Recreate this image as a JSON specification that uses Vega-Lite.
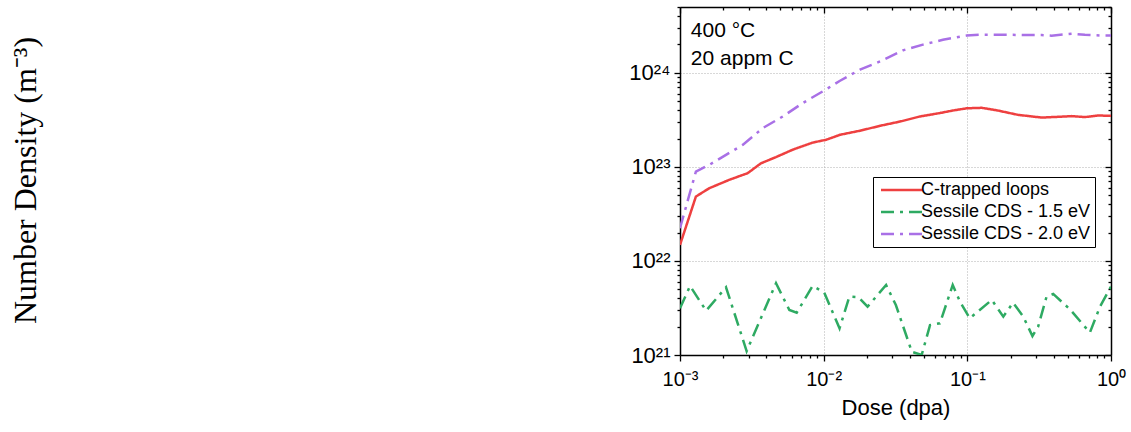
{
  "$schema": "https://vega.github.io/schema/vega-lite/v6.json",
  "autosize": "none",
  "width": 431,
  "height": 348,
  "padding": {"left": 680, "top": 7, "right": 20, "bottom": 77},
  "background": "white",
  "config": {
    "view": {"stroke": null},
    "font": "Liberation Sans",
    "axis": {
      "domainColor": "black",
      "domainWidth": 1.5,
      "tickColor": "black",
      "tickWidth": 1.3,
      "labelColor": "black",
      "titleColor": "black",
      "labelFont": "Liberation Sans",
      "titleFont": "Liberation Sans",
      "titleFontWeight": "normal",
      "labelOverlap": false,
      "labelFlush": false
    },
    "legend": {
      "title": null,
      "strokeColor": "black",
      "fillColor": "white",
      "padding": 4,
      "cornerRadius": 0,
      "symbolType": "M-1,0H7.4",
      "symbolSize": 100,
      "symbolStrokeWidth": 2.5,
      "labelFontSize": 18,
      "labelFont": "Liberation Sans",
      "labelColor": "black",
      "labelLimit": 400,
      "rowPadding": 4,
      "labelOffset": 26
    }
  },
  "datasets": {
    "curves": [
      {"s": "C-trapped loops", "dose": 0.001, "density": 1.48e22},
      {"s": "C-trapped loops", "dose": 0.00129, "density": 4.83e22},
      {"s": "C-trapped loops", "dose": 0.0016, "density": 5.93e22},
      {"s": "C-trapped loops", "dose": 0.0022, "density": 7.27e22},
      {"s": "C-trapped loops", "dose": 0.00296, "density": 8.57e22},
      {"s": "C-trapped loops", "dose": 0.00366, "density": 1.09e23},
      {"s": "C-trapped loops", "dose": 0.00466, "density": 1.27e23},
      {"s": "C-trapped loops", "dose": 0.00608, "density": 1.52e23},
      {"s": "C-trapped loops", "dose": 0.00838, "density": 1.81e23},
      {"s": "C-trapped loops", "dose": 0.0104, "density": 1.94e23},
      {"s": "C-trapped loops", "dose": 0.013, "density": 2.19e23},
      {"s": "C-trapped loops", "dose": 0.0179, "density": 2.42e23},
      {"s": "C-trapped loops", "dose": 0.0247, "density": 2.73e23},
      {"s": "C-trapped loops", "dose": 0.034, "density": 3.03e23},
      {"s": "C-trapped loops", "dose": 0.0468, "density": 3.43e23},
      {"s": "C-trapped loops", "dose": 0.0644, "density": 3.73e23},
      {"s": "C-trapped loops", "dose": 0.0794, "density": 3.97e23},
      {"s": "C-trapped loops", "dose": 0.0993, "density": 4.19e23},
      {"s": "C-trapped loops", "dose": 0.126, "density": 4.24e23},
      {"s": "C-trapped loops", "dose": 0.163, "density": 3.97e23},
      {"s": "C-trapped loops", "dose": 0.225, "density": 3.57e23},
      {"s": "C-trapped loops", "dose": 0.329, "density": 3.34e23},
      {"s": "C-trapped loops", "dose": 0.427, "density": 3.4e23},
      {"s": "C-trapped loops", "dose": 0.532, "density": 3.46e23},
      {"s": "C-trapped loops", "dose": 0.658, "density": 3.38e23},
      {"s": "C-trapped loops", "dose": 0.811, "density": 3.51e23},
      {"s": "C-trapped loops", "dose": 1.0, "density": 3.49e23},

      {"s": "Sessile CDS - 1.5 eV", "dose": 0.001, "density": 3.14e21},
      {"s": "Sessile CDS - 1.5 eV", "dose": 0.001174, "density": 5.42e21},
      {"s": "Sessile CDS - 1.5 eV", "dose": 0.00152, "density": 2.96e21},
      {"s": "Sessile CDS - 1.5 eV", "dose": 0.00209, "density": 5.25e21},
      {"s": "Sessile CDS - 1.5 eV", "dose": 0.00291, "density": 1.1e21},
      {"s": "Sessile CDS - 1.5 eV", "dose": 0.00466, "density": 5.79e21},
      {"s": "Sessile CDS - 1.5 eV", "dose": 0.00577, "density": 3.01e21},
      {"s": "Sessile CDS - 1.5 eV", "dose": 0.00649, "density": 2.82e21},
      {"s": "Sessile CDS - 1.5 eV", "dose": 0.00838, "density": 5.42e21},
      {"s": "Sessile CDS - 1.5 eV", "dose": 0.0101, "density": 4.6e21},
      {"s": "Sessile CDS - 1.5 eV", "dose": 0.0129, "density": 1.92e21},
      {"s": "Sessile CDS - 1.5 eV", "dose": 0.0151, "density": 4.17e21},
      {"s": "Sessile CDS - 1.5 eV", "dose": 0.0175, "density": 4.11e21},
      {"s": "Sessile CDS - 1.5 eV", "dose": 0.0202, "density": 3.26e21},
      {"s": "Sessile CDS - 1.5 eV", "dose": 0.0272, "density": 5.55e21},
      {"s": "Sessile CDS - 1.5 eV", "dose": 0.0318, "density": 3.4e21},
      {"s": "Sessile CDS - 1.5 eV", "dose": 0.0411, "density": 1.08e21},
      {"s": "Sessile CDS - 1.5 eV", "dose": 0.0481, "density": 1.0e21},
      {"s": "Sessile CDS - 1.5 eV", "dose": 0.055, "density": 2.08e21},
      {"s": "Sessile CDS - 1.5 eV", "dose": 0.0644, "density": 2.17e21},
      {"s": "Sessile CDS - 1.5 eV", "dose": 0.0791, "density": 5.55e21},
      {"s": "Sessile CDS - 1.5 eV", "dose": 0.0889, "density": 3.69e21},
      {"s": "Sessile CDS - 1.5 eV", "dose": 0.104, "density": 2.46e21},
      {"s": "Sessile CDS - 1.5 eV", "dose": 0.148, "density": 3.85e21},
      {"s": "Sessile CDS - 1.5 eV", "dose": 0.178, "density": 2.56e21},
      {"s": "Sessile CDS - 1.5 eV", "dose": 0.208, "density": 3.6e21},
      {"s": "Sessile CDS - 1.5 eV", "dose": 0.245, "density": 2.56e21},
      {"s": "Sessile CDS - 1.5 eV", "dose": 0.284, "density": 1.59e21},
      {"s": "Sessile CDS - 1.5 eV", "dose": 0.311, "density": 2.0e21},
      {"s": "Sessile CDS - 1.5 eV", "dose": 0.356, "density": 4.17e21},
      {"s": "Sessile CDS - 1.5 eV", "dose": 0.396, "density": 4.46e21},
      {"s": "Sessile CDS - 1.5 eV", "dose": 0.518, "density": 3.06e21},
      {"s": "Sessile CDS - 1.5 eV", "dose": 0.713, "density": 1.73e21},
      {"s": "Sessile CDS - 1.5 eV", "dose": 0.838, "density": 3.26e21},
      {"s": "Sessile CDS - 1.5 eV", "dose": 1.0, "density": 5.33e21},

      {"s": "Sessile CDS - 2.0 eV", "dose": 0.001, "density": 2.23e22},
      {"s": "Sessile CDS - 2.0 eV", "dose": 0.001225, "density": 6.71e22},
      {"s": "Sessile CDS - 2.0 eV", "dose": 0.00129, "density": 8.91e22},
      {"s": "Sessile CDS - 2.0 eV", "dose": 0.0016, "density": 1.05e23},
      {"s": "Sessile CDS - 2.0 eV", "dose": 0.00209, "density": 1.34e23},
      {"s": "Sessile CDS - 2.0 eV", "dose": 0.00273, "density": 1.71e23},
      {"s": "Sessile CDS - 2.0 eV", "dose": 0.00377, "density": 2.58e23},
      {"s": "Sessile CDS - 2.0 eV", "dose": 0.00519, "density": 3.43e23},
      {"s": "Sessile CDS - 2.0 eV", "dose": 0.00714, "density": 4.76e23},
      {"s": "Sessile CDS - 2.0 eV", "dose": 0.0101, "density": 6.48e23},
      {"s": "Sessile CDS - 2.0 eV", "dose": 0.013, "density": 8.22e23},
      {"s": "Sessile CDS - 2.0 eV", "dose": 0.0179, "density": 1.08e24},
      {"s": "Sessile CDS - 2.0 eV", "dose": 0.0247, "density": 1.32e24},
      {"s": "Sessile CDS - 2.0 eV", "dose": 0.0356, "density": 1.73e24},
      {"s": "Sessile CDS - 2.0 eV", "dose": 0.0491, "density": 1.99e24},
      {"s": "Sessile CDS - 2.0 eV", "dose": 0.0676, "density": 2.24e24},
      {"s": "Sessile CDS - 2.0 eV", "dose": 0.0989, "density": 2.49e24},
      {"s": "Sessile CDS - 2.0 eV", "dose": 0.126, "density": 2.54e24},
      {"s": "Sessile CDS - 2.0 eV", "dose": 0.163, "density": 2.54e24},
      {"s": "Sessile CDS - 2.0 eV", "dose": 0.252, "density": 2.52e24},
      {"s": "Sessile CDS - 2.0 eV", "dose": 0.329, "density": 2.52e24},
      {"s": "Sessile CDS - 2.0 eV", "dose": 0.386, "density": 2.48e24},
      {"s": "Sessile CDS - 2.0 eV", "dose": 0.532, "density": 2.6e24},
      {"s": "Sessile CDS - 2.0 eV", "dose": 0.658, "density": 2.54e24},
      {"s": "Sessile CDS - 2.0 eV", "dose": 0.861, "density": 2.49e24},
      {"s": "Sessile CDS - 2.0 eV", "dose": 1.0, "density": 2.49e24}
    ]
  },
  "resolve": {"axis": {"x": "independent", "y": "independent"}},
  "layer": [
    {
      "data": {"name": "curves"},
      "mark": {"type": "line", "strokeWidth": 2.5, "clip": true},
      "encoding": {
        "x": {
          "field": "dose",
          "type": "quantitative",
          "scale": {"type": "log", "domain": [0.001, 1], "nice": false},
          "axis": {
            "orient": "bottom",
            "title": "Dose (dpa)",
            "titleFontSize": 22,
            "titlePadding": 8,
            "labelFontSize": 20,
            "labelPadding": 8,
            "values": [0.001, 0.01, 0.1, 1],
            "labelExpr": "datum.value == 0.001 ? '10⁻³' : datum.value == 0.01 ? '10⁻²' : datum.value == 0.1 ? '10⁻¹' : '10⁰'",
            "tickSize": 6,
            "grid": true,
            "gridColor": "#b0b0b0",
            "gridDash": [1, 2],
            "gridWidth": 1
          }
        },
        "y": {
          "field": "density",
          "type": "quantitative",
          "scale": {"type": "log", "domain": [1e21, 5e24], "nice": false},
          "axis": {
            "orient": "left",
            "title": "Number Density (m⁻³)",
            "titleFont": "Liberation Serif",
            "titleFontSize": 32,
            "titleAngle": -90,
            "titleX": -655,
            "titleY": 173,
            "titleAlign": "center",
            "titleBaseline": "middle",
            "labelFontSize": 22,
            "labelPadding": 4,
            "values": [1e21, 1e22, 1e23, 1e24],
            "labelExpr": "datum.value == 1e21 ? '10²¹' : datum.value == 1e22 ? '10²²' : datum.value == 1e23 ? '10²³' : '10²⁴'",
            "tickSize": 6,
            "grid": true,
            "gridColor": "#b0b0b0",
            "gridDash": [1, 2],
            "gridWidth": 1
          }
        },
        "color": {
          "field": "s",
          "type": "nominal",
          "scale": {
            "domain": ["C-trapped loops", "Sessile CDS - 1.5 eV", "Sessile CDS - 2.0 eV"],
            "range": ["#ee4040", "#2eaa62", "#a970e6"]
          },
          "legend": {"orient": "none", "legendX": 193, "legendY": 170}
        },
        "strokeDash": {
          "field": "s",
          "type": "nominal",
          "scale": {
            "domain": ["C-trapped loops", "Sessile CDS - 1.5 eV", "Sessile CDS - 2.0 eV"],
            "range": [[1, 0], [13, 6, 3, 6], [13, 6, 3, 6]]
          },
          "legend": {"orient": "none", "legendX": 193, "legendY": 170}
        }
      }
    },
    {
      "data": {"values": [{}]},
      "mark": {
        "type": "text",
        "align": "left",
        "baseline": "top",
        "fontSize": 21,
        "lineHeight": 28,
        "font": "Liberation Sans",
        "color": "black",
        "text": ["400 °C", "20 appm C"]
      },
      "encoding": {
        "x": {
          "datum": 0.00119,
          "type": "quantitative",
          "scale": {"type": "log", "domain": [0.001, 1], "nice": false},
          "axis": {
            "orient": "top",
            "title": null,
            "labels": false,
            "grid": false,
            "values": [0.001, 0.002, 0.003, 0.004, 0.005, 0.006, 0.007, 0.008, 0.009, 0.01, 0.02, 0.03, 0.04, 0.05, 0.06, 0.07, 0.08, 0.09, 0.1, 0.2, 0.3, 0.4, 0.5, 0.6, 0.7, 0.8, 0.9, 1],
            "tickSize": {"condition": {"test": "abs(log(datum.value)/LN10 - round(log(datum.value)/LN10)) < 1e-6", "value": -6}, "value": -3}
          }
        },
        "y": {
          "datum": 3.6e24,
          "type": "quantitative",
          "scale": {"type": "log", "domain": [1e21, 5e24], "nice": false},
          "axis": {
            "orient": "right",
            "title": null,
            "labels": false,
            "grid": false,
            "values": [1e21, 2e21, 3e21, 4e21, 5e21, 6e21, 7e21, 8e21, 9e21, 1e22, 2e22, 3e22, 4e22, 5e22, 6e22, 7e22, 8e22, 9e22, 1e23, 2e23, 3e23, 4e23, 5e23, 6e23, 7e23, 8e23, 9e23, 1e24, 2e24, 3e24, 4e24, 5e24],
            "tickSize": {"condition": {"test": "abs(log(datum.value)/LN10 - round(log(datum.value)/LN10)) < 1e-6", "value": -6}, "value": -3}
          }
        }
      }
    },
    {
      "data": {"values": [{}]},
      "mark": {"type": "text", "text": ""},
      "encoding": {
        "x": {
          "datum": 0.001,
          "type": "quantitative",
          "scale": {"type": "log", "domain": [0.001, 1], "nice": false},
          "axis": {
            "orient": "bottom",
            "title": null,
            "labels": false,
            "grid": false,
            "domain": false,
            "values": [0.002, 0.003, 0.004, 0.005, 0.006, 0.007, 0.008, 0.009, 0.02, 0.03, 0.04, 0.05, 0.06, 0.07, 0.08, 0.09, 0.2, 0.3, 0.4, 0.5, 0.6, 0.7, 0.8, 0.9],
            "tickSize": 3
          }
        },
        "y": {
          "datum": 1e21,
          "type": "quantitative",
          "scale": {"type": "log", "domain": [1e21, 5e24], "nice": false},
          "axis": {
            "orient": "left",
            "title": null,
            "labels": false,
            "grid": false,
            "domain": false,
            "values": [2e21, 3e21, 4e21, 5e21, 6e21, 7e21, 8e21, 9e21, 2e22, 3e22, 4e22, 5e22, 6e22, 7e22, 8e22, 9e22, 2e23, 3e23, 4e23, 5e23, 6e23, 7e23, 8e23, 9e23, 2e24, 3e24, 4e24, 5e24],
            "tickSize": 3
          }
        }
      }
    }
  ]
}
